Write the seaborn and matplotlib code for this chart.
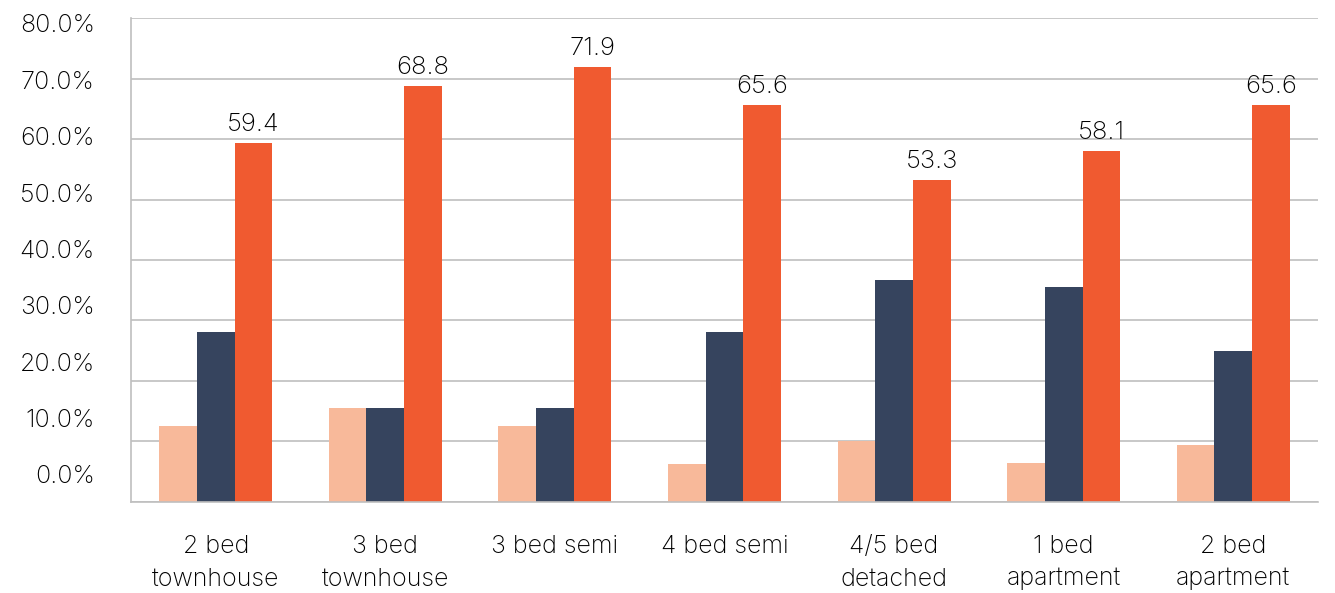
import numpy as np
import pandas as pd
import seaborn as sns
import matplotlib
matplotlib.use("Agg")
import matplotlib.pyplot as plt
from matplotlib.ticker import MultipleLocator

# Home types and the share (%) of each response group
categories = ["2 bed\ntownhouse", "3 bed\ntownhouse", "3 bed semi", "4 bed semi",
              "4/5 bed\ndetached", "1 bed\napartment", "2 bed\napartment"]
series_names = ["low", "mid", "high"]
low_share = [12.5, 15.6, 12.5, 6.3, 10.0, 6.5, 9.4]
mid_share = [28.1, 15.6, 15.6, 28.1, 36.7, 35.5, 25.0]
high_share = [59.4, 68.8, 71.9, 65.6, 53.3, 58.1, 65.6]
y_tick_values = [0, 10, 20, 30, 40, 50, 60, 70, 80]
y_tick_labels = [f"{v:.1f}%" for v in y_tick_values]

colors = ["#F8B99A", "#36445E", "#F05A30"]

df = pd.DataFrame({
    "category": categories * 3,
    "series": [s for s in series_names for _ in categories],
    "value": low_share + mid_share + high_share,
})

sns.set_theme(style="white")
plt.rcParams["font.family"] = ["Inter", "DejaVu Sans"]
plt.rcParams["font.weight"] = "light"

fig = plt.figure(figsize=(13.35, 5.93), dpi=100)
ax = fig.add_axes([0.0981, 0.1535, 0.8892, 0.8161])

sns.barplot(data=df, x="category", y="value", hue="series", order=categories,
            hue_order=series_names, palette=colors, width=0.667, gap=0,
            saturation=1, legend=False, linewidth=0, ax=ax)

# Value labels on the highest series only
ax.bar_label(ax.containers[2], fmt="%.1f", padding=5, fontsize=18.5,
             color="#000000", fontweight="light")

ax.set_ylim(0, 80)
ax.set_xlim(-0.5, len(categories) - 0.5)

# Gridlines every 10 points; labels sit in a slightly compressed column
ax.yaxis.set_minor_locator(MultipleLocator(10))
ax.grid(axis="y", which="minor", color="#BFBFBF", linewidth=1.2)
ax.grid(axis="y", which="major", visible=False)
label_pos = [4.55 + v * 0.932 for v in y_tick_values]
ax.set_yticks(label_pos, y_tick_labels)
ax.tick_params(axis="y", which="both", length=0, pad=26, labelsize=18, labelcolor="#000000")
ax.tick_params(axis="x", length=0, pad=24, labelsize=18, labelcolor="#000000")
for lbl in ax.get_xticklabels():
    lbl.set_linespacing(1.5)
ax.set_axisbelow(True)

ax.set_xlabel("")
ax.set_ylabel("")
for side in ["top", "right"]:
    ax.spines[side].set_visible(False)
for side in ["left", "bottom"]:
    ax.spines[side].set_color("#BFBFBF")
    ax.spines[side].set_linewidth(1.2)

fig.savefig("out.png", dpi=100, facecolor="white")
